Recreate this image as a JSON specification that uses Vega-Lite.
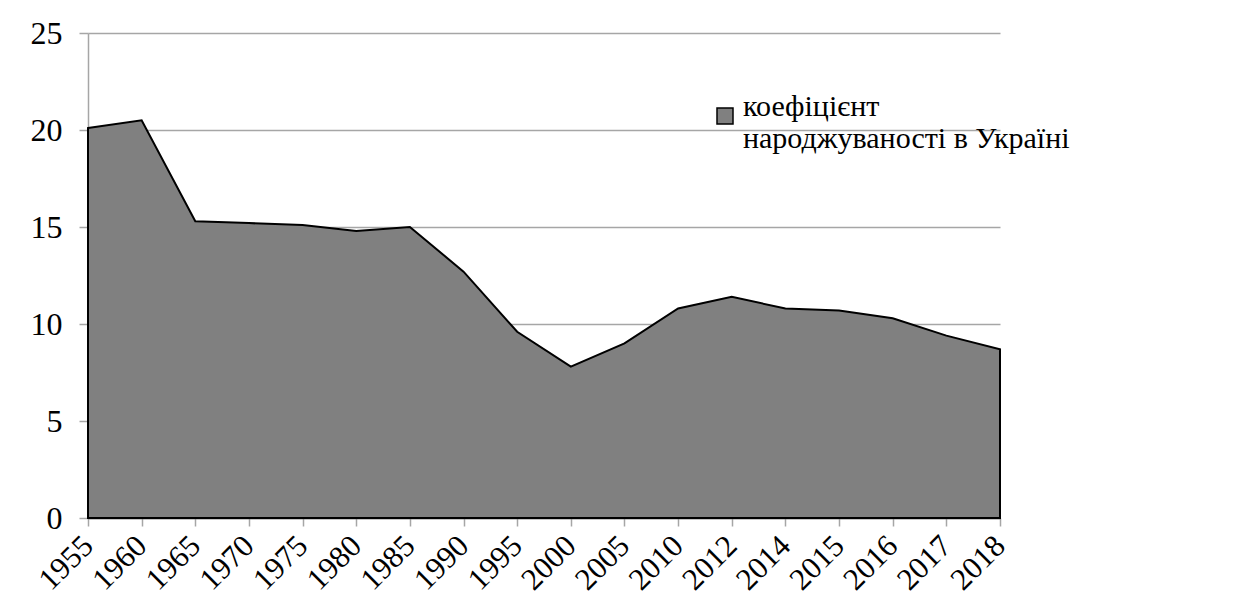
{
  "$schema": "https://vega.github.io/schema/vega-lite/v6.json",
  "autosize": "none",
  "width": 912,
  "height": 485,
  "padding": {"left": 88, "top": 33, "right": 242, "bottom": 92},
  "background": "white",
  "config": {
    "font": "Times New Roman, Liberation Serif, serif",
    "axis": {"labelFont": "Times New Roman, Liberation Serif, serif"},
    "legend": {"labelFont": "Times New Roman, Liberation Serif, serif"},
    "view": {"stroke": null}
  },
  "data": {
    "values": [
      {"year": "1955", "rate": 20.1},
      {"year": "1960", "rate": 20.5},
      {"year": "1965", "rate": 15.3},
      {"year": "1970", "rate": 15.2},
      {"year": "1975", "rate": 15.1},
      {"year": "1980", "rate": 14.8},
      {"year": "1985", "rate": 15.0},
      {"year": "1990", "rate": 12.7},
      {"year": "1995", "rate": 9.6},
      {"year": "2000", "rate": 7.8},
      {"year": "2005", "rate": 9.0},
      {"year": "2010", "rate": 10.8},
      {"year": "2012", "rate": 11.4},
      {"year": "2014", "rate": 10.8},
      {"year": "2015", "rate": 10.7},
      {"year": "2016", "rate": 10.3},
      {"year": "2017", "rate": 9.4},
      {"year": "2018", "rate": 8.7}
    ]
  },
  "mark": {"type": "area", "stroke": "black", "strokeWidth": 2, "opacity": 1, "fillOpacity": 1},
  "encoding": {
    "x": {
      "field": "year",
      "type": "ordinal",
      "sort": null,
      "scale": {"type": "point", "padding": 0},
      "axis": {
        "title": null,
        "labelAngle": -45,
        "labelAlign": "right",
        "labelBaseline": "middle",
        "labelFontSize": 31,
        "labelColor": "black",
        "labelPadding": 15,
        "labelOverlap": false,
        "domainColor": "#595959",
        "domainWidth": 1.5,
        "tickColor": "#a6a6a6",
        "tickSize": 8,
        "tickWidth": 1.5,
        "grid": false
      }
    },
    "y": {
      "field": "rate",
      "type": "quantitative",
      "scale": {"domain": [0, 25], "nice": false},
      "axis": {
        "title": null,
        "values": [0, 5, 10, 15, 20, 25],
        "labelFontSize": 32,
        "labelColor": "black",
        "labelPadding": 17,
        "domainColor": "#a6a6a6",
        "domainWidth": 1.5,
        "tickColor": "#a6a6a6",
        "tickSize": 9,
        "tickWidth": 1.5,
        "grid": true,
        "gridColor": "#a6a6a6",
        "gridWidth": 1.5
      }
    },
    "color": {
      "datum": "коефіцієнт народжуваності в Україні",
      "type": "nominal",
      "scale": {"range": ["#808080"]},
      "legend": {
        "title": null,
        "orient": "none",
        "legendX": 622,
        "legendY": 68,
        "symbolType": "square",
        "symbolSize": 256,
        "symbolStrokeColor": "black",
        "symbolStrokeWidth": 1.5,
        "symbolOpacity": 1,
        "labelFontSize": 30,
        "labelColor": "black",
        "labelLimit": 0,
        "labelOffset": 3,
        "labelBaseline": "alphabetic",
        "labelExpr": "['коефіцієнт', 'народжуваності в Україні']"
      }
    }
  }
}
